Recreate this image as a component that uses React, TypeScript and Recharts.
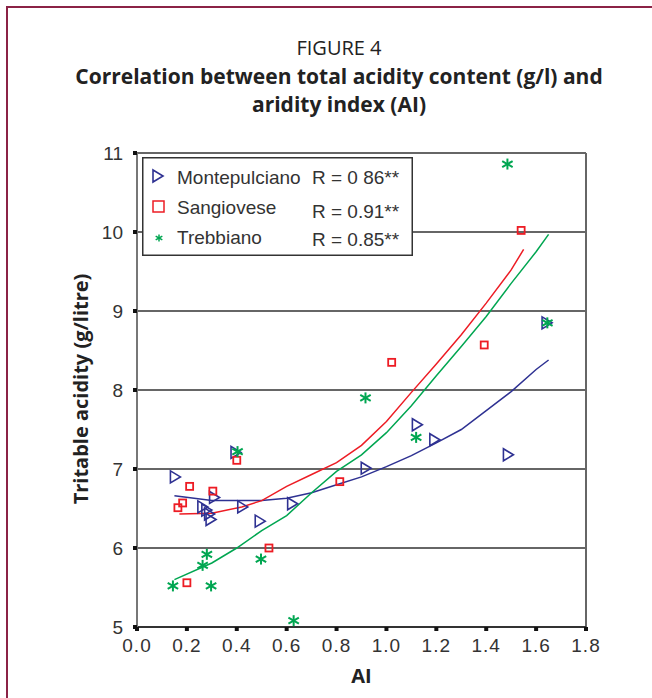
import { ScatterChart, Scatter, XAxis, YAxis, CartesianGrid, ReferenceLine } from 'recharts'

const BLUE = '#2e3192'
const RED = '#ed1c24'
const GREEN = '#00a651'

const xTicks = [0, 0.2, 0.4, 0.6, 0.8, 1.0, 1.2, 1.4, 1.6, 1.8]
const yTicks = [5, 6, 7, 8, 9, 10, 11]

// observed points (AI, titratable acidity)
const montepulciano = [
  { x: 0.15, y: 6.9 }, { x: 0.26, y: 6.52 }, { x: 0.276, y: 6.48 }, { x: 0.287, y: 6.43 },
  { x: 0.293, y: 6.36 }, { x: 0.307, y: 6.64 }, { x: 0.393, y: 7.21 }, { x: 0.42, y: 6.52 },
  { x: 0.49, y: 6.34 }, { x: 0.62, y: 6.56 }, { x: 0.915, y: 7.01 }, { x: 1.12, y: 7.56 },
  { x: 1.19, y: 7.37 }, { x: 1.485, y: 7.18 }, { x: 1.64, y: 8.85 },
]
const sangiovese = [
  { x: 0.164, y: 6.51 }, { x: 0.183, y: 6.57 }, { x: 0.2, y: 5.56 }, { x: 0.211, y: 6.78 },
  { x: 0.304, y: 6.72 }, { x: 0.4, y: 7.11 }, { x: 0.529, y: 6.0 }, { x: 0.813, y: 6.84 },
  { x: 1.021, y: 8.35 }, { x: 1.392, y: 8.57 }, { x: 1.54, y: 10.02 },
]
const trebbiano = [
  { x: 0.144, y: 5.52 }, { x: 0.263, y: 5.78 }, { x: 0.28, y: 5.92 }, { x: 0.297, y: 5.52 },
  { x: 0.403, y: 7.22 }, { x: 0.497, y: 5.86 }, { x: 0.628, y: 5.08 }, { x: 0.916, y: 7.9 },
  { x: 1.119, y: 7.4 }, { x: 1.485, y: 10.86 }, { x: 1.645, y: 8.85 },
]

// fitted curves
const montepulcianoFit = [
  { x: 0.15, y: 6.66 }, { x: 0.3, y: 6.6 }, { x: 0.4, y: 6.6 }, { x: 0.5, y: 6.6 }, { x: 0.6, y: 6.63 },
  { x: 0.7, y: 6.7 }, { x: 0.8, y: 6.8 }, { x: 0.9, y: 6.9 }, { x: 1.0, y: 7.03 }, { x: 1.1, y: 7.17 },
  { x: 1.2, y: 7.33 }, { x: 1.3, y: 7.5 }, { x: 1.4, y: 7.74 }, { x: 1.5, y: 7.98 }, { x: 1.6, y: 8.26 },
  { x: 1.65, y: 8.38 },
]
const sangioveseFit = [
  { x: 0.17, y: 6.43 }, { x: 0.3, y: 6.44 }, { x: 0.42, y: 6.52 }, { x: 0.5, y: 6.6 }, { x: 0.6, y: 6.78 },
  { x: 0.7, y: 6.93 }, { x: 0.8, y: 7.08 }, { x: 0.9, y: 7.3 }, { x: 1.0, y: 7.6 }, { x: 1.1, y: 7.97 },
  { x: 1.2, y: 8.33 }, { x: 1.3, y: 8.7 }, { x: 1.4, y: 9.1 }, { x: 1.5, y: 9.52 }, { x: 1.55, y: 9.78 },
]
const trebbianoFit = [
  { x: 0.15, y: 5.6 }, { x: 0.3, y: 5.81 }, { x: 0.4, y: 6.0 }, { x: 0.5, y: 6.22 }, { x: 0.6, y: 6.41 },
  { x: 0.7, y: 6.7 }, { x: 0.8, y: 6.97 }, { x: 0.9, y: 7.18 }, { x: 1.0, y: 7.46 }, { x: 1.1, y: 7.8 },
  { x: 1.2, y: 8.18 }, { x: 1.3, y: 8.55 }, { x: 1.4, y: 8.93 }, { x: 1.5, y: 9.35 }, { x: 1.6, y: 9.75 },
  { x: 1.65, y: 9.97 },
]

const legendItems = [
  { name: 'Montepulciano', r: 'R = 0 86**', color: BLUE, kind: 'tri', rdy: 0 },
  { name: 'Sangiovese', r: 'R = 0.91**', color: RED, kind: 'sq', rdy: 4 },
  { name: 'Trebbiano', r: 'R = 0.85**', color: GREEN, kind: 'star', rdy: 2 },
]

const tickFont = { fontFamily: '"Liberation Sans", Arial, sans-serif', fontSize: 19, fill: '#333' }
const xTickFont = { ...tickFont, letterSpacing: 1 }
const legendFont = { fontFamily: '"Liberation Sans", Arial, sans-serif', fontSize: 19, fill: '#333' }
const labelFont = { fontFamily: '"Open Sans", sans-serif', fontWeight: 700, fontSize: 20, fill: '#222' }

function Tri({ cx, cy, color = BLUE }: any) {
  if (cx == null || cy == null) return <g />
  return <path d={`M${cx - 4},${cy - 6} L${cx + 6},${cy} L${cx - 4},${cy + 6} Z`} fill="none" stroke={color} strokeWidth={1.6} />
}
function Sq({ cx, cy, color = RED }: any) {
  if (cx == null || cy == null) return <g />
  return <rect x={cx - 3.5} y={cy - 3.5} width={7} height={7} fill="none" stroke={color} strokeWidth={1.8} />
}
function Star({ cx, cy, color = GREEN, s = 5.5, w = 2 }: any) {
  if (cx == null || cy == null) return <g />
  const d = s * 0.95
  return (
    <g stroke={color} strokeWidth={w}>
      <line x1={cx} y1={cy - s} x2={cx} y2={cy + s} />
      <line x1={cx - d} y1={cy - s * 0.55} x2={cx + d} y2={cy + s * 0.55} />
      <line x1={cx - d} y1={cy + s * 0.55} x2={cx + d} y2={cy - s * 0.55} />
    </g>
  )
}

function LegendBox() {
  return (
    <svg width={271} height={99} style={{ position: 'absolute', left: 142, top: 157, display: 'block' }}>
      <rect x={0.75} y={0.75} width={269.5} height={97.5} fill="#fff" stroke="#333" strokeWidth={1.5} />
      {legendItems.map((it, i) => {
        const cy = 20 + i * 30
        return (
          <g key={it.name}>
            {it.kind === 'tri' && <Tri cx={15} cy={cy - 1} color={it.color} />}
            {it.kind === 'sq' && <rect x={11} y={cy - 6} width={11} height={11} fill="none" stroke={it.color} strokeWidth={1.5} />}
            {it.kind === 'star' && <Star cx={17} cy={cy + 1} s={3.5} w={1.5} color={it.color} />}
            <text x={35} y={cy} dominantBaseline="central" {...legendFont}>{it.name}</text>
            <text x={170} y={cy + it.rdy} dominantBaseline="central" {...legendFont}>{it.r}</text>
          </g>
        )
      })}
    </svg>
  )
}

const lineScatter = (data: any[], color: string, name: string) => (
  <Scatter
    key={name}
    name={name}
    data={data}
    line={{ stroke: color, strokeWidth: 1.5 }}
    lineType="joint"
    shape={() => <g />}
    legendType="none"
    isAnimationActive={false}
  />
)

export default function App() {
  return (
    <div style={{ position: 'absolute', left: 0, top: 0, width: 652, height: 698, background: '#fff', overflow: 'hidden' }}>
      <div style={{ position: 'absolute', left: 6, top: 6, width: 700, height: 720, borderLeft: '2px solid #8b2346', borderTop: '2px solid #8b2346' }} />
      <div style={{ position: 'absolute', left: 0, width: 678, top: 34, textAlign: 'center', fontFamily: '"Open Sans", sans-serif', color: '#222' }}>
        <div style={{ fontSize: 20, lineHeight: '28px' }}>FIGURE 4</div>
        <div style={{ fontSize: 21, fontWeight: 700, lineHeight: '28px' }}>Correlation between total acidity content (g/l) and</div>
        <div style={{ fontSize: 21, fontWeight: 700, lineHeight: '28px' }}>aridity index (AI)</div>
      </div>
      <ScatterChart width={652} height={698} margin={{ top: 153, right: 66, bottom: 0, left: 0 }} style={{ position: 'absolute', left: 0, top: 0 }}>
        <CartesianGrid vertical={false} stroke="#333" strokeWidth={1.3} />
        <XAxis
          type="number"
          dataKey="x"
          domain={[0, 1.8]}
          ticks={xTicks}
          tickFormatter={(v: number) => v.toFixed(1)}
          height={71}
          tick={xTickFont}
          tickSize={4}
          tickMargin={8}
          tickLine={{ stroke: '#111', strokeWidth: 4 }}
          axisLine={{ stroke: '#333', strokeWidth: 2 }}
          allowDataOverflow
          label={{ value: 'AI', position: 'insideBottom', offset: 15, style: labelFont }}
        />
        <YAxis
          type="number"
          dataKey="y"
          domain={[5, 11]}
          ticks={yTicks}
          width={137}
          tick={tickFont}
          tickSize={4}
          tickMargin={10}
          tickLine={{ stroke: '#111', strokeWidth: 4 }}
          axisLine={{ stroke: '#777', strokeWidth: 2 }}
          allowDataOverflow
          label={{
            content: () => (
              <text x={80} y={389} transform="rotate(-90 80 389)" textAnchor="middle" dominantBaseline="central" style={labelFont}>
                Tritable acidity (g/litre)
              </text>
            ),
          }}
        />
        <ReferenceLine x={1.8} stroke="#666" strokeWidth={2} />
        {lineScatter(montepulcianoFit, BLUE, 'mFit')}
        {lineScatter(sangioveseFit, RED, 'sFit')}
        {lineScatter(trebbianoFit, GREEN, 'tFit')}
        <Scatter name="Montepulciano" data={montepulciano} shape={(p: any) => <Tri {...p} />} isAnimationActive={false} />
        <Scatter name="Sangiovese" data={sangiovese} shape={(p: any) => <Sq {...p} />} isAnimationActive={false} />
        <Scatter name="Trebbiano" data={trebbiano} shape={(p: any) => <Star {...p} />} isAnimationActive={false} />
      </ScatterChart>
      <LegendBox />
    </div>
  )
}
